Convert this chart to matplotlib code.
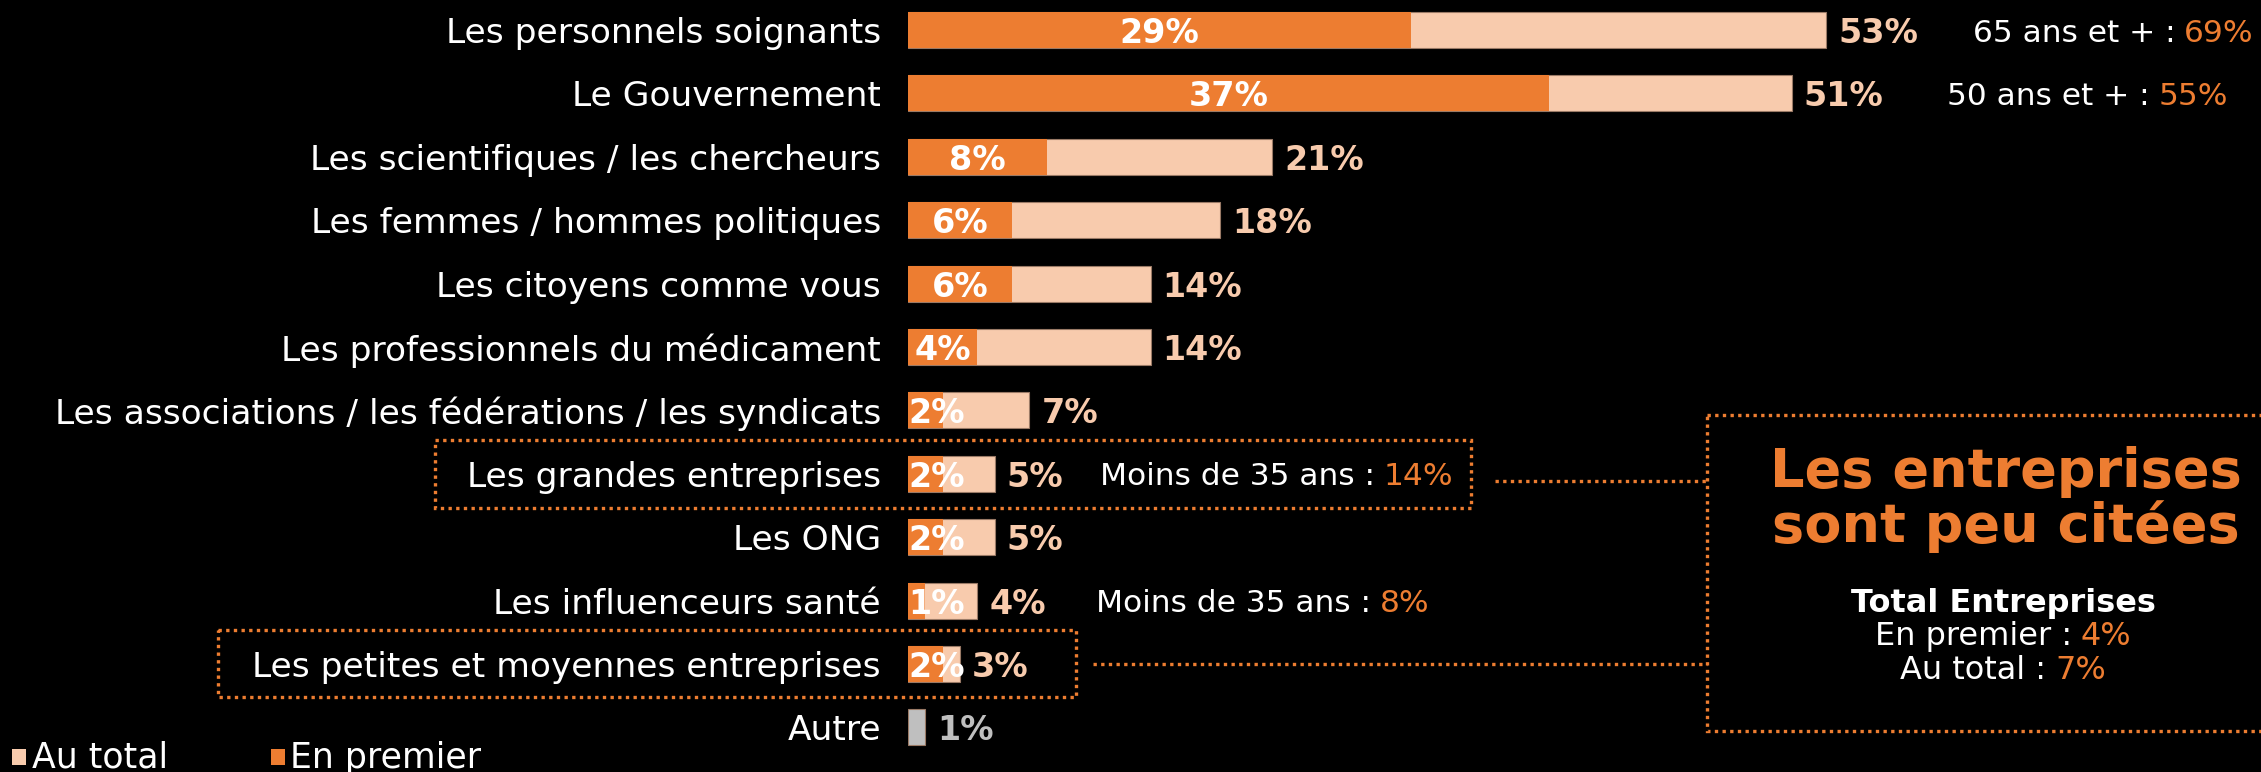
import matplotlib
matplotlib.use('Agg')
import matplotlib.pyplot as plt
from matplotlib.patches import Rectangle
import numpy as np

# ---------------- data ----------------
categories = [
    "Les personnels soignants",
    "Le Gouvernement",
    "Les scientifiques / les chercheurs",
    "Les femmes / hommes politiques",
    "Les citoyens comme vous",
    "Les professionnels du médicament",
    "Les associations / les fédérations / les syndicats",
    "Les grandes entreprises",
    "Les ONG",
    "Les influenceurs santé",
    "Les petites et moyennes entreprises",
    "Autre",
]
total = [53, 51, 21, 18, 14, 14, 7, 5, 5, 4, 3, 1]
first = [29, 37, 8, 6, 6, 4, 2, 2, 2, 1, 2, np.nan]

callout_rows = [0, 1, 7, 9]
callout_text = ["65 ans et + :", "50 ans et + :", "Moins de 35 ans :", "Moins de 35 ans :"]
callout_value = ["69%", "55%", "14%", "8%"]
callout_x_px = [1973, 1947, 1100, 1096]

legend_labels = ["Au total", "En premier"]
box_title = ["Les entreprises", "sont peu citées"]
box_subtitle = "Total Entreprises"
box_text = ["En premier :", "Au total :"]
box_value = ["4%", "7%"]

# ---------------- style ----------------
ORANGE = "#ED7D31"
PEACH = "#F8CBAD"
GREY = "#BFBFBF"
WHITE = "#FFFFFF"
FONT = "DejaVu Sans"

W, H = 2261, 772
fig = plt.figure(figsize=(W / 100, H / 100), dpi=100, facecolor="black")

X0 = 908      # px where bars start
PXPCT = 17.33 # px per percent
Y0 = 30       # px centre of first row
DY = 63.4     # px row spacing

ax = fig.add_axes([X0 / W, 0, 1 - X0 / W, 1])
ax.axis("off")
ax.set_xlim(0, (W - X0) / PXPCT)
ax.set_ylim((H - Y0) / DY, -Y0 / DY)

ov = fig.add_axes([0, 0, 1, 1], zorder=5)
ov.axis("off")
ov.set_xlim(0, W)
ov.set_ylim(H, 0)

y = np.arange(len(categories))
bh = 0.57
tot_colors = [PEACH] * (len(categories) - 1) + [GREY]
ax.barh(y, total, height=bh, color=tot_colors, edgecolor="#9a7a66", linewidth=0.8)
ax.barh(y, first, height=bh, color=ORANGE, linewidth=0)

LBL = 24.8
PCT = 24

for i, cat in enumerate(categories):
    ax.text(-27 / PXPCT, i, cat, ha="right", va="center_baseline", color=WHITE,
            fontsize=LBL, family=FONT, clip_on=False)
    c = GREY if i == len(categories) - 1 else PEACH
    ax.text(total[i] + 12 / PXPCT, i, f"{total[i]}%", ha="left", va="center_baseline",
            color=c, fontsize=PCT, fontweight="bold", family=FONT)
    f = first[i]
    if not np.isnan(f):
        if f >= 4:
            ax.text(f / 2, i, f"{int(f)}%", ha="center", va="center_baseline", color=WHITE,
                    fontsize=PCT, fontweight="bold", family=FONT)
        else:
            ax.text(0, i, f"{int(f)}%", ha="left", va="center_baseline", color=WHITE,
                    fontsize=PCT, fontweight="bold", family=FONT)

renderer = fig.canvas.get_renderer()


def runs(x_px, y_px, parts, ha="left", fontsize=20, weight="normal"):
    """parts: list of (text, color). placed with a space between them."""
    gap = 0.28 * fontsize * 100 / 72
    ts = []
    widths = []
    for txt, col in parts:
        t = ov.text(0, y_px, txt, color=col, fontsize=fontsize, fontweight=weight,
                    family=FONT, ha="left", va="center_baseline")
        ts.append(t)
        widths.append(t.get_window_extent(renderer).width)
    tot = sum(widths) + gap * (len(parts) - 1)
    x = x_px - tot / 2 if ha == "center" else x_px
    for t, w in zip(ts, widths):
        t.set_x(x)
        x += w + gap


# callouts (row position from data axis)
for r, txt, val, xp in zip(callout_rows, callout_text, callout_value, callout_x_px):
    ydisp = ax.transData.transform((0, r))[1]
    ypx = H - ydisp
    runs(xp, ypx, [(txt, WHITE), (val, ORANGE)], fontsize=22.5)

# dotted decorations
DOT = dict(fill=False, edgecolor=ORANGE, linestyle=(0, (1, 1.3)), linewidth=2.4)
ov.add_patch(Rectangle((435, 440), 1471 - 435, 508 - 440, **DOT))
ov.add_patch(Rectangle((218, 630), 1076 - 218, 697 - 630, **DOT))
ov.add_patch(Rectangle((1707, 415), 600, 731 - 415, clip_on=False, **DOT))
ov.plot([1495, 1707], [481, 481], color=ORANGE, linestyle=(0, (1, 1.3)), linewidth=2.4)
ov.plot([1093, 1707], [664, 664], color=ORANGE, linestyle=(0, (1, 1.3)), linewidth=2.4)

# right box text
ov.text(2006, 467, box_title[0], ha="center", va="center_baseline", color=ORANGE,
        fontsize=39, fontweight="bold", family=FONT)
ov.text(2006, 521, box_title[1], ha="center", va="center_baseline", color=ORANGE,
        fontsize=39, fontweight="bold", family=FONT)
ov.text(2003, 600, box_subtitle, ha="center", va="center_baseline", color=WHITE,
        fontsize=23, fontweight="bold", family=FONT)
runs(2003, 633, [(box_text[0], WHITE), (box_value[0], ORANGE)], ha="center", fontsize=23)
runs(2003, 667, [(box_text[1], WHITE), (box_value[1], ORANGE)], ha="center", fontsize=23)

# legend
ov.add_patch(Rectangle((12, 749), 14, 16, color=PEACH, linewidth=0))
ov.text(32, 768, legend_labels[0], ha="left", va="baseline", color=WHITE, fontsize=25, family=FONT)
ov.add_patch(Rectangle((271, 749), 14, 16, color=ORANGE, linewidth=0))
ov.text(290, 768, legend_labels[1], ha="left", va="baseline", color=WHITE, fontsize=25, family=FONT)

fig.savefig("out.png", dpi=100, facecolor="black")
